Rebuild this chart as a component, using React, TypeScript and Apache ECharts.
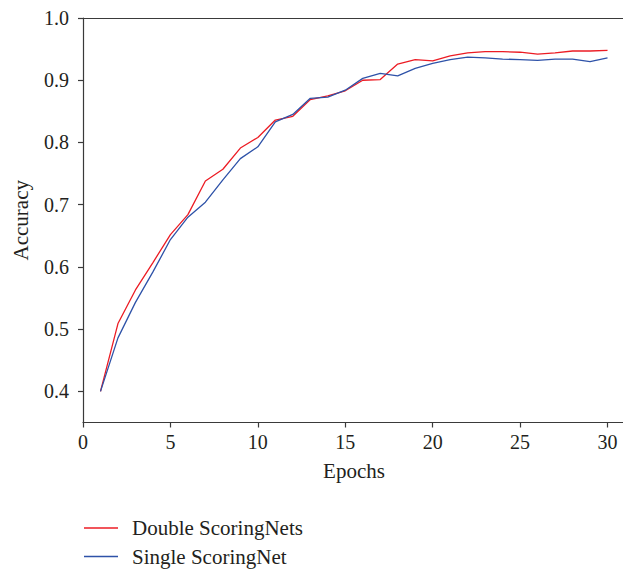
import React, { useEffect, useRef } from 'react';
import * as echarts from 'echarts';

const epochs = [1, 2, 3, 4, 5, 6, 7, 8, 9, 10, 11, 12, 13, 14, 15, 16, 17, 18, 19, 20, 21, 22, 23, 24, 25, 26, 27, 28, 29, 30];
const doubleScoringNets = [0.400, 0.509, 0.563, 0.607, 0.652, 0.684, 0.738, 0.757, 0.791, 0.808, 0.836, 0.842, 0.869, 0.875, 0.883, 0.900, 0.901, 0.926, 0.933, 0.931, 0.939, 0.944, 0.946, 0.946, 0.945, 0.942, 0.944, 0.947, 0.947, 0.948];
const singleScoringNet = [0.400, 0.486, 0.543, 0.592, 0.644, 0.680, 0.704, 0.740, 0.774, 0.793, 0.833, 0.845, 0.871, 0.873, 0.884, 0.903, 0.911, 0.907, 0.919, 0.927, 0.933, 0.937, 0.936, 0.934, 0.933, 0.932, 0.934, 0.934, 0.930, 0.936];
const xTicks = [0, 5, 10, 15, 20, 25, 30];
const yTicks = [0.4, 0.5, 0.6, 0.7, 0.8, 0.9, 1.0];
const seriesNames = ['Double ScoringNets', 'Single ScoringNet'];

const FONT = '"Liberation Serif", "Times New Roman", serif';
const TEXT = '#231f20';
const AXIS = '#3a3a3a';
const RED = '#ec1c24';
const BLUE = '#2e52a8';

export default function App() {
  const ref = useRef<HTMLDivElement>(null);
  useEffect(() => {
    document.body.style.margin = '0';
    if (!ref.current) return;
    const chart = echarts.init(ref.current, undefined, { renderer: 'svg' });
    const legendBase = {
      orient: 'vertical',
      left: 84,
      padding: 0,
      itemWidth: 34,
      itemHeight: 14,
      icon: 'path://M0,7L34,7L34,8.3L0,8.3Z',
      textStyle: { fontFamily: FONT, fontSize: 21, lineHeight: 20, color: TEXT, padding: [0, 0, 0, 9] },
    };
    chart.setOption({
      animation: false,
      backgroundColor: '#ffffff',
      textStyle: { fontFamily: FONT, color: TEXT },
      grid: { left: 83, top: 18, width: 542, height: 404.5, containLabel: false, outerBoundsMode: 'none' },
      legend: [
        { ...legendBase, top: 517.5, data: [seriesNames[0]] },
        { ...legendBase, top: 546, data: [seriesNames[1]] },
      ],
      xAxis: [
        {
          type: 'value',
          min: 0,
          max: 31,
          name: 'Epochs',
          nameLocation: 'middle',
          nameGap: 38,
          nameTextStyle: { fontFamily: FONT, fontSize: 21, color: TEXT },
          axisLine: { show: true, lineStyle: { color: AXIS, width: 1.2 } },
          axisTick: { show: true, length: 5, lineStyle: { color: AXIS, width: 1.2 }, customValues: xTicks },
          axisLabel: { fontFamily: FONT, fontSize: 20, color: TEXT, margin: 9, customValues: xTicks },
          splitLine: { show: false },
        },
        {
          type: 'value',
          position: 'top',
          min: 0,
          max: 31,
          axisLine: { show: true, lineStyle: { color: AXIS, width: 1.2 } },
          axisTick: { show: false },
          axisLabel: { show: false },
          splitLine: { show: false },
        },
      ],
      yAxis: {
        type: 'value',
        min: 0.35,
        max: 1.0,
        name: 'Accuracy',
        nameLocation: 'middle',
        nameGap: 52,
        nameTextStyle: { fontFamily: FONT, fontSize: 21, color: TEXT },
        axisLine: { show: true, lineStyle: { color: AXIS, width: 1.2 } },
        axisTick: { show: true, length: 5, lineStyle: { color: AXIS, width: 1.2 }, customValues: yTicks },
        axisLabel: {
          fontFamily: FONT,
          fontSize: 20,
          color: TEXT,
          margin: 14,
          customValues: yTicks,
          formatter: (v: number) => v.toFixed(1),
        },
        splitLine: { show: false },
      },
      series: [
        {
          name: seriesNames[0],
          type: 'line',
          xAxisIndex: 0,
          symbol: 'none',
          lineStyle: { color: RED, width: 1.3 },
          itemStyle: { color: RED },
          data: epochs.map((e, i) => [e, doubleScoringNets[i]]),
          z: 2,
        },
        {
          name: seriesNames[1],
          type: 'line',
          xAxisIndex: 0,
          symbol: 'none',
          lineStyle: { color: BLUE, width: 1.3 },
          itemStyle: { color: BLUE },
          data: epochs.map((e, i) => [e, singleScoringNet[i]]),
          z: 3,
        },
      ],
    });
    return () => chart.dispose();
  }, []);
  return <div ref={ref} style={{ width: 623, height: 569 }} />;
}
